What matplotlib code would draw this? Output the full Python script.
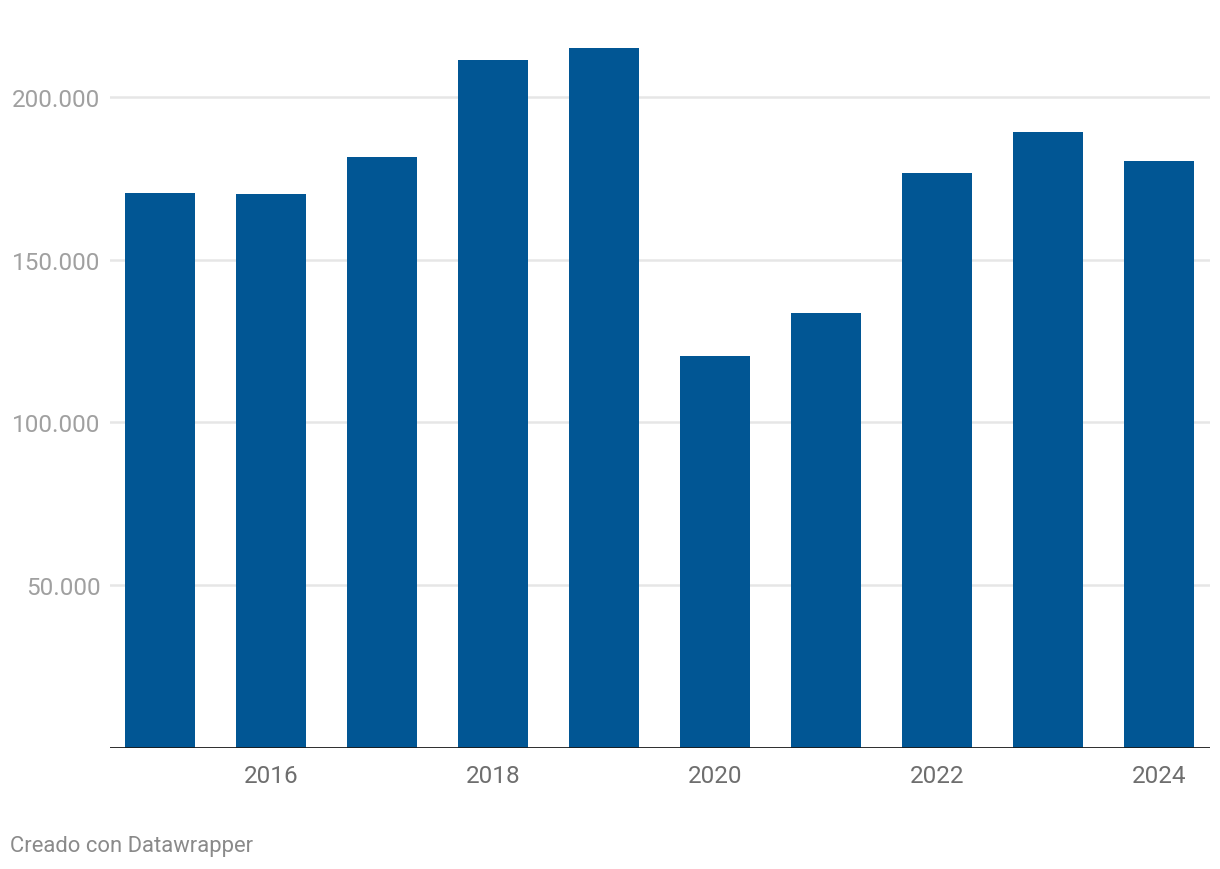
import matplotlib
matplotlib.use("Agg")
import matplotlib.pyplot as plt

years = [2015, 2016, 2017, 2018, 2019, 2020, 2021, 2022, 2023, 2024]
values = [170400, 170100, 181500, 211300, 215000, 120300, 133500, 176550, 189150, 180250]
yticks = [50000, 100000, 150000, 200000]
ytick_labels = ["50.000", "100.000", "150.000", "200.000"]
xtick_years = [2016, 2018, 2020, 2022, 2024]

plt.rcParams['font.family'] = ['Roboto', 'DejaVu Sans']

W, H = 1220, 870
fig = plt.figure(figsize=(W / 100, H / 100), dpi=100)
left, right, bottom, top = 110, 1210, 748.8, 30
ax = fig.add_axes([left / W, 1 - bottom / H, (right - left) / W, (bottom - top) / H])

px_per = 650.8 / 200000
ax.set_ylim(0, (bottom - top) / px_per)
ax.set_xlim(2015 - 0.45, 2024 + 0.46)

ax.bar(years, values, width=0.63, color="#015694", zorder=3)

for t in yticks:
    ax.axhline(t, color="#e6e6e6", lw=1.8, zorder=1)
ax.axhline(0, color="#1a1a1a", lw=2, zorder=4)

for s in ax.spines.values():
    s.set_visible(False)
ax.set_yticks(yticks)
ax.set_yticklabels(ytick_labels)
ax.tick_params(axis='y', length=0, pad=7, labelsize=17.5, labelcolor="#a0a0a0")
ax.set_xticks(xtick_years)
ax.set_xticklabels([str(y) for y in xtick_years])
ax.tick_params(axis='x', length=0, pad=12, labelsize=17.5, labelcolor="#6e6e6e")

fig.text(10 / W, 1 - 847 / H, "Creado con Datawrapper", fontsize=15.8, color="#8a8a8a",
         ha="left", va="center")

fig.savefig("out.png", dpi=100, facecolor="white")
